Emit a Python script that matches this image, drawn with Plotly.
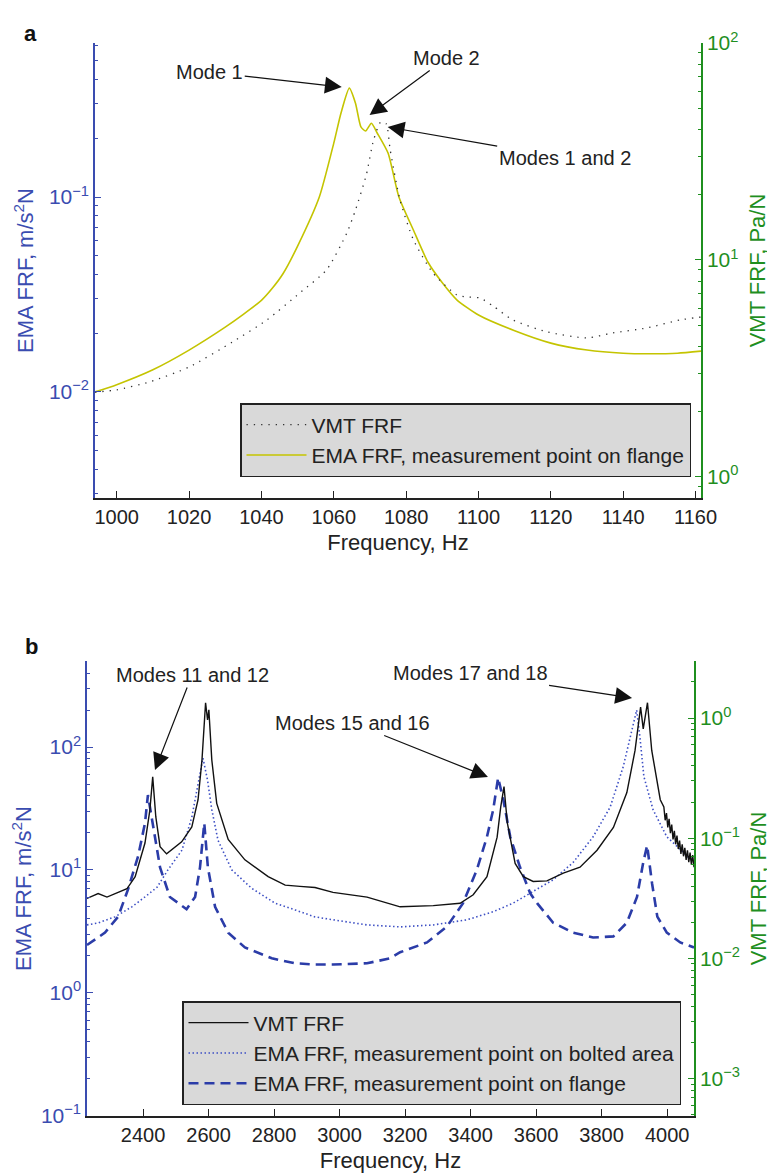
import plotly.graph_objects as go

# ---------------- Panel a data ----------------
a_ema_freq = [994, 1000, 1010, 1020, 1030, 1035, 1040, 1043, 1046, 1050, 1056, 1060, 1062, 1064.3,
              1066, 1067.5, 1068.8, 1070.4, 1072, 1075, 1078, 1082, 1086, 1090, 1094, 1100, 1110,
              1120, 1130, 1140, 1147, 1155, 1161.5]
a_ema_val = [0.0100, 0.0109, 0.0130, 0.0164, 0.0215, 0.0250, 0.0295, 0.0340, 0.0405, 0.056, 0.100,
             0.189, 0.270, 0.362, 0.303, 0.229, 0.218, 0.239, 0.213, 0.168, 0.100, 0.0677, 0.0464,
             0.0363, 0.0297, 0.0248, 0.0206, 0.0178, 0.0164, 0.0158, 0.0157, 0.0158, 0.0162]

a_vmt_freq = [994, 1000, 1009, 1020, 1032, 1041.5, 1050.6, 1058, 1063.6, 1066, 1069, 1071, 1073,
              1074.5, 1075.6, 1078.3, 1082, 1087.4, 1094, 1097, 1100.4, 1104, 1109.5, 1119,
              1130, 1137, 1146.5, 1155.7, 1161.5]
a_vmt_val = [2.46, 2.52, 2.74, 3.21, 4.19, 5.29, 7.05, 9.0, 13.3, 17.0, 24.7, 35.7, 43.3,
             42.4, 32.1, 18.9, 12.4, 8.71, 6.90, 6.75, 6.68, 6.14, 5.29, 4.66,
             4.37, 4.61, 4.86, 5.29, 5.46]

# ---------------- Panel b data ----------------
b_vmt_freq = [2229, 2263, 2290, 2351, 2376, 2406, 2421, 2429.6, 2439, 2452, 2472, 2518, 2549,
              2568, 2580, 2591, 2597, 2601, 2610, 2625, 2660, 2711, 2782, 2834, 2879, 2925,
              2980, 3084, 3185, 3286, 3368, 3408, 3450, 3481, 3492, 3502, 3512, 3536, 3561,
              3591, 3633, 3683, 3734, 3786, 3836, 3877, 3902, 3919, 3927, 3940, 3953, 3979,
              3990, 3994, 3998, 4002, 4006, 4010, 4014, 4018, 4022, 4026, 4030, 4034, 4038,
              4042, 4046, 4050, 4054, 4058, 4062, 4066, 4070, 4074, 4078, 4082]
b_vmt_val = [0.0316, 0.0347, 0.0324, 0.0380, 0.0479, 0.0912, 0.172, 0.324, 0.151, 0.0851, 0.0741,
             0.0933, 0.124, 0.209, 0.447, 1.34, 0.962, 1.17, 0.447, 0.195, 0.0977, 0.0661,
             0.0479, 0.0407, 0.0398, 0.0389, 0.0355, 0.0324, 0.0269, 0.0275, 0.0288, 0.0339,
             0.0479, 0.102, 0.182, 0.269, 0.135, 0.0617, 0.0479, 0.0437, 0.0442, 0.0513,
             0.0575, 0.0794, 0.123, 0.240, 0.537, 1.23, 0.813, 1.34, 0.537, 0.209,
             0.182, 0.141, 0.162, 0.123, 0.145, 0.110, 0.130, 0.0977, 0.115, 0.0891, 0.105,
             0.0813, 0.0955, 0.0741, 0.0891, 0.0708, 0.0832, 0.0661, 0.0794, 0.0631, 0.0759,
             0.0603, 0.0724, 0.0575, 0.0692, 0.0562]

b_bolt_freq = [2229, 2263, 2314, 2366, 2406, 2443, 2476, 2519, 2549, 2568, 2583, 2597, 2610,
               2629, 2671, 2732, 2803, 2864, 2925, 2980, 3084, 3185, 3286, 3389, 3469, 3530,
               3582, 3603, 3652, 3713, 3774, 3826, 3866, 3907, 3917, 3929, 3957, 3999, 4061, 4082]
b_bolt_val = [3.57, 3.71, 4.15, 5.01, 6.03, 7.24, 10.0, 14.5, 26.9, 51.3, 81.3, 53.7, 30.9,
              17.4, 10.0, 7.08, 5.37, 4.73, 4.15, 3.93, 3.57, 3.44, 3.57, 3.93, 4.57, 5.37,
              6.46, 6.92, 8.32, 11.5, 18.6, 32.4, 69.2, 200, 120, 57.5, 30.9, 18.6, 12.9, 11.5]

b_flange_freq = [2229, 2284, 2324, 2354, 2385, 2406, 2415, 2431, 2452, 2482, 2533, 2559, 2574,
                 2587, 2598, 2620, 2660, 2711, 2793, 2864, 2925, 2980, 3084, 3154, 3185, 3267,
                 3328, 3377, 3419, 3450, 3469, 3484, 3500, 3521, 3551, 3582, 3603, 3652, 3713,
                 3774, 3836, 3877, 3908, 3927, 3939, 3954, 3970, 3999, 4040, 4082]
b_flange_val = [2.45, 3.09, 4.17, 6.92, 12.9, 24.0, 40.7, 22.4, 10.5, 6.03, 4.79, 6.03, 10.5,
                24.0, 10.5, 5.01, 3.09, 2.34, 1.91, 1.74, 1.70, 1.70, 1.74, 1.91, 2.14, 2.57,
                3.47, 5.37, 10.0, 18.6, 30.9, 56.2, 37.2, 18.6, 10.5, 6.46, 5.37, 3.72, 3.09,
                2.82, 2.88, 3.72, 6.03, 11.5, 15.8, 7.76, 4.17, 3.09, 2.57, 2.34]

a_xticks = [1000, 1020, 1040, 1060, 1080, 1100, 1120, 1140, 1160]
b_xticks = [2400, 2600, 2800, 3000, 3200, 3400, 3600, 3800, 4000]

# ---------------- styling ----------------
FONT = "Liberation Sans, Arial, Helvetica, sans-serif"
BLUE = "#3a4cb0"
GREEN = "#1f8f1f"
YELLOW = "#c4c400"
# the page body adds an 8px margin; the figure is sized to fill the rest of the window
OFF = 8
W, H = 775 - OFF, 1173 - OFF


def px(x):
    return (x - OFF) / W


def py(y):
    return 1 - (y - OFF) / H


def pow_label(p):
    if p < 0:
        return "10<sup>\u2212%d</sup>" % (-p)
    return "10<sup>%d</sup>" % p


def minor_vals(pmin, pmax):
    return [m * 10 ** p for p in range(pmin, pmax + 1) for m in range(2, 10)]


def log_axis(color, pows, minor_range, rng, **kw):
    d = dict(
        type="log", range=rng, automargin=False,
        tickmode="array", tickvals=[10 ** p for p in pows], ticktext=[pow_label(p) for p in pows],
        ticks="inside", ticklen=6, tickwidth=1.2, tickcolor=color,
        minor=dict(tickmode="array", tickvals=minor_vals(*minor_range), ticks="inside",
                   ticklen=3.5, tickwidth=1.2, tickcolor=color, showgrid=False),
        showline=True, linecolor=color, linewidth=1.5,
        showgrid=False, zeroline=False,
        tickfont=dict(family=FONT, size=21, color=color),
        title_font=dict(family=FONT, size=22, color=color),
    )
    d.update(kw)
    return d


def x_axis(dom, anchor, rng, ticks, **kw):
    d = dict(
        domain=dom, anchor=anchor, range=rng, automargin=False,
        tickmode="array", tickvals=ticks,
        ticks="inside", ticklen=7, tickwidth=1.2, tickcolor="#222",
        showline=True, linecolor="#222", linewidth=1.5,
        showgrid=False, zeroline=False,
        tickfont=dict(family=FONT, size=20, color="#222"),
        title=dict(text="Frequency, Hz", font=dict(family=FONT, size=22, color="#222"), standoff=8),
    )
    d.update(kw)
    return d


fig = go.Figure()

# Panel a traces
fig.add_trace(go.Scatter(x=a_vmt_freq, y=a_vmt_val, mode="lines", name="VMT FRF",
                         line=dict(color="#333333", width=1.3, dash="1.3px,6px",
                                   shape="spline", smoothing=0.6),
                         xaxis="x", yaxis="y2", legend="legend"))
fig.add_trace(go.Scatter(x=a_ema_freq, y=a_ema_val, mode="lines",
                         name="EMA FRF, measurement point on flange",
                         line=dict(color=YELLOW, width=1.6, shape="spline", smoothing=0.6),
                         xaxis="x", yaxis="y", legend="legend"))

# Panel b traces
fig.add_trace(go.Scatter(x=b_vmt_freq, y=b_vmt_val, mode="lines", name="VMT FRF",
                         line=dict(color="#111111", width=1.4),
                         xaxis="x2", yaxis="y4", legend="legend2"))
fig.add_trace(go.Scatter(x=b_bolt_freq, y=b_bolt_val, mode="lines",
                         name="EMA FRF, measurement point on bolted area",
                         line=dict(color="#3d4fc4", width=1.6, dash="1.5px,2.5px"),
                         xaxis="x2", yaxis="y3", legend="legend2"))
fig.add_trace(go.Scatter(x=b_flange_freq, y=b_flange_val, mode="lines",
                         name="EMA FRF, measurement point on flange",
                         line=dict(color="#2b3ca8", width=2.6, dash="10px,6px"),
                         xaxis="x2", yaxis="y3", legend="legend2"))

ya_dom = [py(498), py(43)]
yb_dom = [py(1116), py(661)]

fig.update_layout(
    width=W, height=H,
    margin=dict(l=0, r=0, t=0, b=0, autoexpand=False),
    paper_bgcolor="white", plot_bgcolor="white",
    font=dict(family=FONT, size=20, color="#222"),
    xaxis=x_axis([px(95), px(701)], "y", [994, 1161.5], a_xticks),
    yaxis=log_axis(BLUE, [-2, -1], (-3, -1), [-2.544, -0.21], domain=ya_dom, anchor="x",
                   title=dict(text="EMA FRF, m/s<sup>2</sup>N", standoff=9)),
    yaxis2=log_axis(GREEN, [0, 1, 2], (-1, 1), [-0.097, 2.0], overlaying="y", side="right",
                    anchor="x", title=dict(text="VMT FRF, Pa/N", standoff=12)),
    xaxis2=x_axis([px(87), px(694)], "y3", [2229, 4082], b_xticks),
    yaxis3=log_axis(BLUE, [-1, 0, 1, 2], (-1, 2), [-1.002, 2.70], domain=yb_dom, anchor="x2",
                    title=dict(text="EMA FRF, m/s<sup>2</sup>N", standoff=14)),
    yaxis4=log_axis(GREEN, [-3, -2, -1, 0], (-4, 0), [-3.31, 0.474], overlaying="y3",
                    side="right", anchor="x2", title=dict(text="VMT FRF, Pa/N", standoff=12)),
    legend=dict(x=px(691), xanchor="right", y=py(403), yanchor="top",
                bgcolor="#d9d9d9", bordercolor="#222", borderwidth=1.5,
                font=dict(family=FONT, size=21, color="#222"), itemwidth=60,
                tracegroupgap=0),
    legend2=dict(x=px(681), xanchor="right", y=py(1001), yanchor="top",
                 bgcolor="#d9d9d9", bordercolor="#222", borderwidth=1.5,
                 font=dict(family=FONT, size=21, color="#222"), itemwidth=60,
                 tracegroupgap=0),
    showlegend=True,
)

ann_font = dict(family=FONT, size=20, color="#222")
arrow = dict(showarrow=True, arrowhead=2, arrowsize=2.8, arrowwidth=1.2, arrowcolor="#111",
             font=ann_font)

annotations = [
    dict(text="Mode 1", x=1062.2, y=-0.436, xref="x", yref="y", ax=-132, ay=-15, **arrow),
    dict(text="Mode 2", x=1069.9, y=-0.579, xref="x", yref="y", ax=77, ay=-57, **arrow),
    dict(text="Modes 1 and 2", x=1074.9, y=-0.641, xref="x", yref="y", ax=177, ay=31, **arrow),
    dict(text="Modes 11 and 12", x=2436.6, y=1.813, xref="x2", yref="y3", ax=37, ay=-95, **arrow),
    dict(text="Modes 15 and 16", x=3453, y=1.756, xref="x2", yref="y3", ax=-135, ay=-54, **arrow),
    dict(text="Modes 17 and 18", x=3893, y=2.398, xref="x2", yref="y3", ax=-162, ay=-25, **arrow),
    dict(text="<b>a</b>", x=px(22), y=py(19), xref="paper", yref="paper", showarrow=False,
         font=dict(family=FONT, size=22, color="#111")),
    dict(text="<b>b</b>", x=px(23), y=py(646), xref="paper", yref="paper", showarrow=False,
         font=dict(family=FONT, size=22, color="#111")),
]
fig.update_layout(annotations=annotations)

fig.write_html("out.html")
